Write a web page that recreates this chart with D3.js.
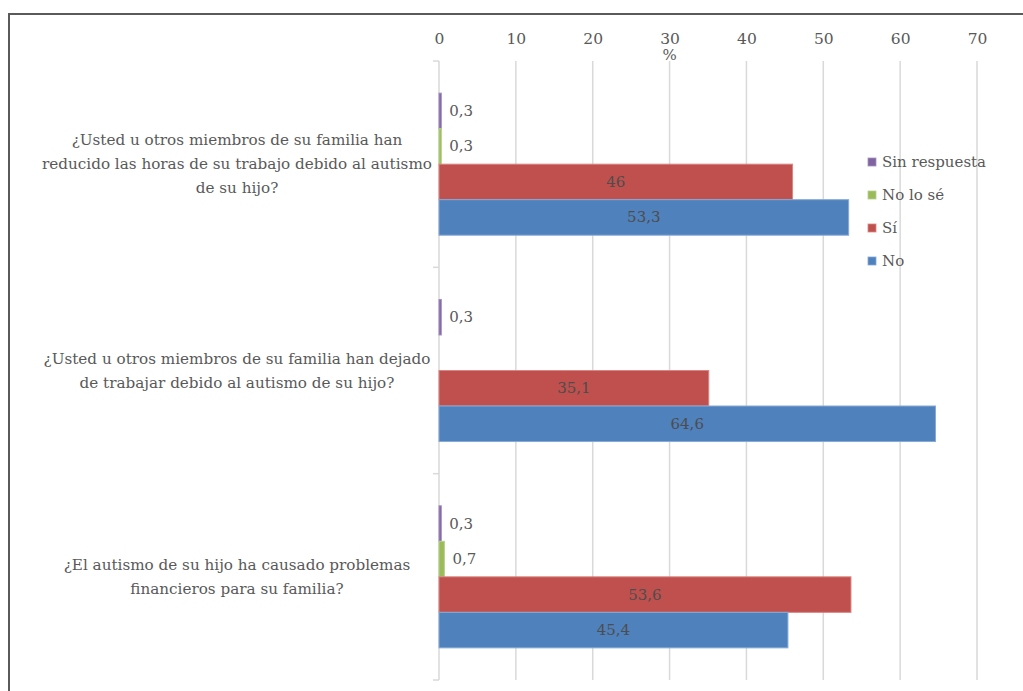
<!DOCTYPE html>
<html>
<head>
<meta charset="utf-8">
<script src="https://cdn.jsdelivr.net/npm/d3@7"></script>
<style>
  body { margin: 0; background: #fff; }
  text { font-family: "DejaVu Serif", serif; fill: #595959; }
</style>
</head>
<body>
<div id="canvas"></div>
<script>
const canvas = d3.select("#canvas");

// datos
const preguntas = ["q1", "q2", "q3"];
const etiquetas = [
    ["¿Usted u otros miembros de su familia han", "reducido las horas de su trabajo debido al autismo", "de su hijo?"],
    ["¿Usted u otros miembros de su familia han dejado", "de trabajar debido al autismo de su hijo?"],
    ["¿El autismo de su hijo ha causado problemas", "financieros para su familia?"]
];
const series = ["Sin respuesta", "No lo sé", "Sí", "No"];
const sinRespuesta = [0.3, 0.3, 0.3];
const noLoSe = [0.3, 0, 0.7];
const si = [46, 35.1, 53.6];
const no = [53.3, 64.6, 45.4];
const ticks = [0, 10, 20, 30, 40, 50, 60, 70];

const valores = [sinRespuesta, noLoSe, si, no];
const colores = ["#8064A2", "#9BBB59", "#C0504D", "#4F81BD"];
const bordes = ["#a48fc0", "#b5d08a", "#d98582", "#86a9d6"];

const width = 1023;
const height = 691;

const svg = canvas.append("svg")
    .attr("width", width)
    .attr("height", height);

// marco
svg.append("path")
    .attr("d", `M9,${height} L9,14 L${width},14`)
    .attr("fill", "none")
    .attr("stroke", "#5a5a5a")
    .attr("stroke-width", 2);

const x = d3.scaleLinear()
    .domain([0, 70])
    .range([439, 977]);

const y0 = d3.scaleBand()
    .domain(preguntas)
    .range([61, 680]);

const y1 = d3.scaleBand()
    .domain(series)
    .range([0, y0.bandwidth()])
    .paddingOuter(0.905);

// rejilla
svg.append("g").selectAll("line").data(ticks.slice(1)).enter().append("line")
    .attr("x1", d => x(d)).attr("x2", d => x(d))
    .attr("y1", 61).attr("y2", 680)
    .attr("stroke", "#d9d9d9")
    .attr("stroke-width", 1.5);

// eje superior
const xAxis = svg.append("g")
    .attr("transform", "translate(0,44)")
    .call(d3.axisTop(x).tickValues(ticks).tickSize(0).tickPadding(0));
xAxis.select(".domain").remove();
xAxis.selectAll("text")
    .attr("font-size", 15.5)
    .attr("font-family", "DejaVu Serif")
    .attr("dy", 0)
    .style("fill", "#595959");

svg.append("text")
    .attr("x", x(30))
    .attr("y", 60)
    .attr("text-anchor", "middle")
    .attr("font-size", 15)
    .text("%");

// eje vertical
const yLine = svg.append("g").attr("stroke", "#d9d9d9").attr("stroke-width", 1.5);
yLine.append("line")
    .attr("x1", x(0)).attr("x2", x(0))
    .attr("y1", 61).attr("y2", 680);
const bordesY = preguntas.map(p => y0(p)).concat([y0(preguntas[2]) + y0.bandwidth()]);
yLine.selectAll(".tk").data(bordesY).enter().append("line")
    .attr("x1", x(0) - 6).attr("x2", x(0))
    .attr("y1", d => d).attr("y2", d => d);

// etiquetas de preguntas
preguntas.forEach((p, i) => {
    const lines = etiquetas[i];
    const cy = y0(p) + y0.bandwidth() / 2;
    const t = svg.append("text")
        .attr("text-anchor", "middle")
        .attr("font-size", 15.2)
        .attr("x", 237)
        .attr("y", cy - (lines.length - 1) * 12 + 5);
    lines.forEach((l, j) => {
        t.append("tspan").attr("x", 237).attr("dy", j === 0 ? 0 : 24).text(l);
    });
});

// barras
const grupos = svg.selectAll(".grupo").data(preguntas).enter().append("g")
    .attr("class", "grupo")
    .attr("transform", d => `translate(0,${y0(d)})`);

series.forEach((s, k) => {
    const val = d => valores[k][preguntas.indexOf(d)];
    const con = grupos.filter(d => val(d) > 0);

    con.append("rect")
        .attr("x", x(0))
        .attr("y", y1(s))
        .attr("width", d => x(val(d)) - x(0))
        .attr("height", y1.bandwidth())
        .attr("fill", colores[k])
        .attr("stroke", bordes[k])
        .attr("stroke-width", 1);

    con.append("text")
        .attr("font-size", 15)
        .attr("y", y1(s) + y1.bandwidth() / 2 + 5)
        .attr("x", d => val(d) < 5 ? x(val(d)) + 8 : (x(0) + x(val(d))) / 2)
        .attr("text-anchor", d => val(d) < 5 ? "start" : "middle")
        .style("fill", d => val(d) < 5 ? "#595959" : "#4d4d4d")
        .text(d => String(val(d)).replace(".", ","));
});

// leyenda
const leyenda = svg.append("g").attr("transform", "translate(868,162)");
series.forEach((s, i) => {
    const row = leyenda.append("g").attr("transform", `translate(0,${i * 33})`);
    row.append("rect")
        .attr("x", 0).attr("y", -4)
        .attr("width", 8).attr("height", 8)
        .attr("fill", colores[i])
        .attr("stroke", bordes[i])
        .attr("stroke-width", 0.8);
    row.append("text")
        .attr("x", 14).attr("y", 5)
        .attr("font-size", 15)
        .text(s);
});
</script>
</body>
</html>
